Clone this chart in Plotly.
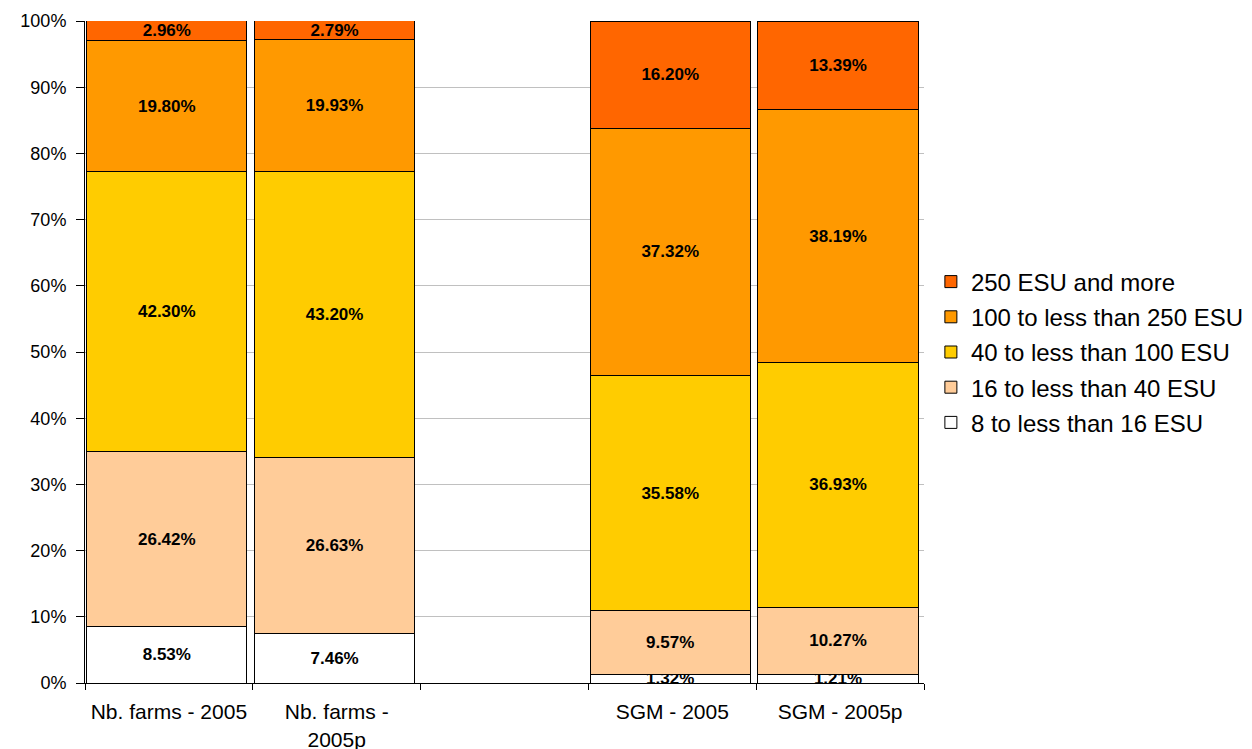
import plotly.graph_objects as go

categories = ["Nb. farms - 2005", "Nb. farms -<br>2005p", " ", "SGM - 2005", "SGM - 2005p"]
series_names = ["8 to less than 16 ESU", "16 to less than 40 ESU", "40 to less than 100 ESU",
                "100 to less than 250 ESU", "250 ESU and more"]
esu_8_16 = [8.53, 7.46, None, 1.32, 1.21]
esu_16_40 = [26.42, 26.63, None, 9.57, 10.27]
esu_40_100 = [42.30, 43.20, None, 35.58, 36.93]
esu_100_250 = [19.80, 19.93, None, 37.32, 38.19]
esu_250_plus = [2.96, 2.79, None, 16.20, 13.39]
colors = ["#FFFFFF", "#FFCC99", "#FFCC00", "#FF9900", "#FF6600"]

font_family = "Liberation Sans, Arial, sans-serif"
fig = go.Figure()
all_series = [esu_8_16, esu_16_40, esu_40_100, esu_100_250, esu_250_plus]
for i, (name, vals, col) in enumerate(zip(series_names, all_series, colors)):
    fig.add_trace(go.Bar(
        x=categories,
        y=[v / 100 if v is not None else None for v in vals],
        name=name,
        legendgroup=name,
        legendrank=1000 - i,
        width=0.955,
        offset=-0.49,
        marker=dict(color=col, line=dict(color="black", width=1)),
        text=[f"{v:.2f}%" if v is not None else "" for v in vals],
        textposition="inside",
        insidetextanchor="middle",
        textangle=0,
        constraintext="none",
        textfont=dict(family=font_family, size=17, color="black", weight="bold"),
        hoverinfo="skip",
    ))

# page body has an 8px margin, so margins are reduced by 8px on top/left
fig.update_layout(
    barmode="stack",
    width=1252, height=749,
    margin=dict(l=77, r=335, t=13, b=74),
    plot_bgcolor="white",
    paper_bgcolor="white",
    font=dict(family=font_family, color="black"),
    uniformtext=dict(minsize=17, mode="show"),
    legend=dict(
        x=1.007, xanchor="left", y=0.5, yanchor="middle",
        traceorder="grouped", tracegroupgap=1,
        font=dict(size=24, color="black"),
        itemclick=False,
    ),
    showlegend=True,
)
fig.update_yaxes(
    range=[0, 1], tickformat=".0%", dtick=0.1,
    showgrid=True, gridcolor="#C0C0C0", gridwidth=1,
    showline=True, linecolor="black", linewidth=1,
    ticks="outside", ticklen=8, tickcolor="black",
    ticklabelstandoff=6,
    tickfont=dict(size=18, color="black"),
    zeroline=False, automargin=False,
)
fig.update_xaxes(
    type="category",
    showline=True, linecolor="black", linewidth=1,
    ticks="outside", ticklen=6, tickcolor="black",
    tickson="boundaries",
    ticklabelstandoff=10,
    tickfont=dict(size=21, color="black"),
    showgrid=False, automargin=False,
)
fig.write_html("out.html")
